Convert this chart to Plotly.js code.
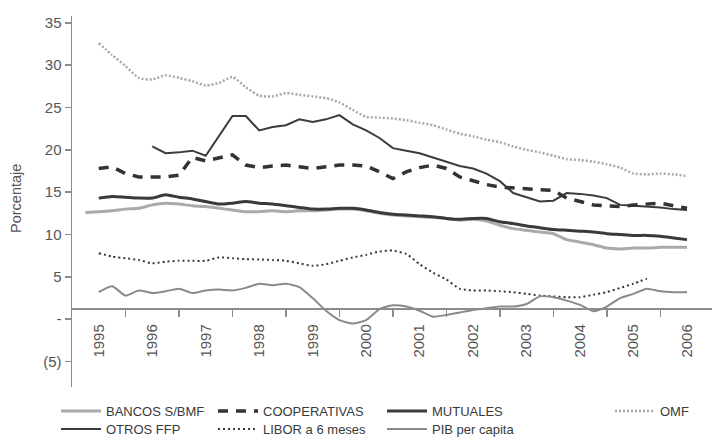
<!DOCTYPE html>
<html><head><meta charset="utf-8">
<script src="https://cdn.plot.ly/plotly-3.0.1.min.js"></script>
<style>html,body{margin:0;padding:0;background:#fff}#chart{width:712px;height:443px}</style>
</head><body><div id="chart"></div>
<script>
// Quarterly periods (decimal years)
const periods = [1994.75,
 1995,1995.25,1995.5,1995.75, 1996,1996.25,1996.5,1996.75, 1997,1997.25,1997.5,1997.75,
 1998,1998.25,1998.5,1998.75, 1999,1999.25,1999.5,1999.75, 2000,2000.25,2000.5,2000.75,
 2001,2001.25,2001.5,2001.75, 2002,2002.25,2002.5,2002.75, 2003,2003.25,2003.5,2003.75,
 2004,2004.25,2004.5,2004.75, 2005,2005.25,2005.5,2005.75, 2006];

const bancos = [12.6, 12.7,12.8,13.0,13.1, 13.5,13.7,13.6,13.4, 13.3,13.1,12.9,12.7, 12.7,12.8,12.7,12.8, 12.8,12.9,13.0,13.0, 12.8,12.5,12.3,12.2, 12.1,12.0,11.9,11.7, 11.8,11.6,11.1,10.7, 10.5,10.3,10.1,9.4, 9.1,8.8,8.4,8.3, 8.4,8.4,8.5,8.5, 8.5];
const cooperativas = [null, 17.8,18.0,17.2,16.8, 16.8,16.8,17.0,19.1, 18.7,19.0,19.4,18.2, 17.9,18.1,18.2,18.0, 17.8,18.0,18.2,18.2, 18.1,17.4,16.6,17.4, 17.9,18.2,17.8,16.8, 16.3,15.9,15.6,15.5, 15.4,15.3,15.2,14.3, 13.9,13.5,13.4,13.3, 13.5,13.6,13.7,13.4, 13.1];
const mutuales = [null, 14.3,14.5,14.4,14.3, 14.3,14.7,14.4,14.2, 13.9,13.6,13.7,13.9, 13.7,13.6,13.4,13.2, 13.0,13.0,13.1,13.1, 12.9,12.6,12.4,12.3, 12.2,12.1,11.9,11.8, 11.9,11.9,11.5,11.3, 11.0,10.8,10.6,10.5, 10.4,10.3,10.1,10.0, 9.9,9.9,9.8,9.6, 9.4];
const omf = [null, 32.6,31.2,29.9,28.5, 28.3,28.8,28.5,28.1, 27.6,27.9,28.6,27.4, 26.4,26.3,26.7,26.5, 26.3,26.1,25.6,24.7, 23.9,23.8,23.7,23.5, 23.2,22.9,22.4,21.9, 21.6,21.2,20.9,20.4, 20.0,19.7,19.3,18.9, 18.8,18.6,18.3,17.9, 17.2,17.1,17.2,17.1, 16.9];
const otrosFFP = [null, null,null,null,null, 20.4,19.6,19.7,19.9, 19.3,21.6,24.0,24.0, 22.3,22.7,22.9,23.6, 23.3,23.6,24.1,23.0, 22.3,21.4,20.2,19.9, 19.6,19.1,18.6,18.1, 17.8,17.2,16.3,14.9, 14.4,13.9,14.0,14.9, 14.8,14.6,14.3,13.5, 13.4,13.3,13.2,13.0, 12.9];
const libor = [null, 7.8,7.4,7.2,7.0, 6.6,6.8,6.9,6.9, 6.9,7.3,7.2,7.1, 7.05,7.0,6.9,6.6, 6.3,6.5,6.9,7.3, 7.6,8.0,8.1,7.7, 6.5,5.5,4.7,3.6, 3.4,3.4,3.3,3.2, 3.0,2.8,2.7,2.6, 2.6,2.9,3.2,3.7, 4.2,4.8,null,null, null];
const pib = [null, 3.2,3.9,2.8,3.4, 3.1,3.3,3.6,3.1, 3.4,3.5,3.4,3.7, 4.2,4.0,4.2,3.8, 2.5,1.0,-0.1,-0.5, -0.1,1.2,1.65,1.5, 1.0,0.3,0.5,0.8, 1.1,1.3,1.5,1.5, 1.8,2.7,2.6,2.2, 1.7,0.95,1.5,2.5, 3.0,3.6,3.3,3.2, 3.2];

const yearVals = [1995,1996,1997,1998,1999,2000,2001,2002,2003,2004,2005,2006];
const yearLabels = ['1995','1996','1997','1998','1999','2000','2001','2002','2003','2004','2005','2006'];
const yearBounds = [1995.5,1996.5,1997.5,1998.5,1999.5,2000.5,2001.5,2002.5,2003.5,2004.5,2005.5];
const yTickVals = [-5,0,5,10,15,20,25,30,35];
const yTickText = ['(5)','-','5','10','15','20','25','30','35'];

const Y0 = -8, Y1 = 35.8, XCROSS = 1.3, XR = [1994.5, 2006.467];
const FONT = '"Liberation Sans", Arial, Helvetica, sans-serif';

function tr(name, y, color, width, dash, legend, shape) {
  return {type:'scatter', mode:'lines', name:name, x:periods, y:y, connectgaps:false,
    line:{color:color, width:width, dash:dash||'solid', shape:shape||'linear', smoothing:0.6},
    legend:legend, hoverinfo:'skip'};
}

const data = [
  tr('BANCOS S/BMF', bancos, '#aaaaaa', 3, 'solid', 'legend', 'spline'),
  tr('OTROS FFP', otrosFFP, '#3c3c3c', 2, 'solid', 'legend5'),
  tr('COOPERATIVAS', cooperativas, '#333333', 3.5, '10px,8px', 'legend2'),
  tr('LIBOR a 6 meses', libor, '#3a3a3a', 2, '2px,3px', 'legend6', 'spline'),
  tr('MUTUALES', mutuales, '#3a3a3a', 3, 'solid', 'legend3', 'spline'),
  tr('PIB per capita', pib, '#8a8a8a', 2, 'solid', 'legend7', 'spline'),
  tr('OMF', omf, '#a8a8a8', 2.5, '2px,2px', 'legend4', 'spline'),
  // carrier for the year-label axis (no visible marks)
  {type:'scatter', mode:'lines', x:yearVals, y:yearVals.map(() => null), xaxis:'x2', showlegend:false, hoverinfo:'skip'}
];

function leg(px, py) {
  return {x:px/712, xref:'container', y:1-py/443, yref:'container', xanchor:'left', yanchor:'middle',
    orientation:'v', bgcolor:'rgba(0,0,0,0)', borderwidth:0, itemwidth:40, tracegroupgap:0,
    font:{family:FONT, size:13, color:'#3a3a3a'}};
}

const axPos = (XCROSS-Y0)/(Y1-Y0);
const layout = {
  width:712, height:443,
  margin:{l:72, r:0, t:16, b:56, autoexpand:false},
  paper_bgcolor:'#ffffff', plot_bgcolor:'#ffffff',
  font:{family:FONT, color:'#555555'},
  showlegend:true,
  xaxis:{
    range:XR, anchor:'free', position:axPos, automargin:false,
    showline:true, linecolor:'#8c8c8c', linewidth:1.5, showgrid:false, zeroline:false,
    tickmode:'array', tickvals:yearBounds, ticks:'outside', ticklen:7, tickcolor:'#8c8c8c', tickwidth:1.5,
    showticklabels:false
  },
  xaxis2:{
    range:XR, overlaying:'x', anchor:'free', position:axPos, automargin:false,
    showline:false, showgrid:false, zeroline:false,
    tickmode:'array', tickvals:yearVals, ticktext:yearLabels, tickangle:-90,
    ticks:'', ticklabelstandoff:12, tickfont:{family:FONT, size:15, color:'#555555'}
  },
  yaxis:{
    range:[Y0, Y1], showline:true, linecolor:'#8c8c8c', linewidth:1.5, automargin:false,
    showgrid:false, zeroline:false, tickmode:'array', tickvals:yTickVals, ticktext:yTickText,
    ticks:'outside', ticklen:6, tickcolor:'#8c8c8c', tickwidth:1.5,
    tickfont:{family:FONT, size:15, color:'#555555'}
  },
  legend:leg(56,411), legend2:leg(213,411), legend3:leg(382,411), legend4:leg(610,411),
  legend5:leg(56,429), legend6:leg(213,429), legend7:leg(382,429),
  annotations:[{text:'Porcentaje', xref:'paper', yref:'paper', x:(16-72)/640, y:(387-199)/371,
    xanchor:'center', yanchor:'middle', textangle:-90, showarrow:false,
    font:{family:FONT, size:14.5, color:'#555555'}}]
};

Plotly.newPlot('chart', data, layout, {displayModeBar:false, staticPlot:true});
</script>
</body></html>
